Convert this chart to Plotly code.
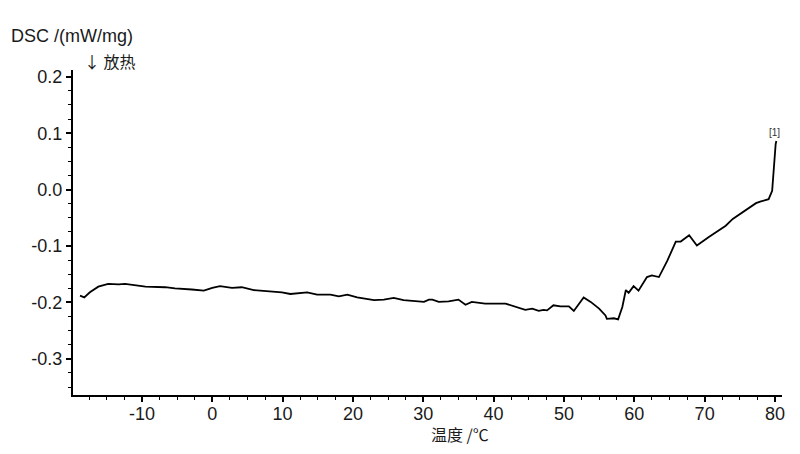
"""DSC curve: heat flow vs temperature."""

import plotly.graph_objects as go

# temperature (°C) and DSC signal (mW/mg)
temperature = [
    -18.8, -18.2, -17.4, -16.2, -14.8, -13.3, -12.4, -11.0, -9.5, -6.7,
    -5.3, -2.9, -1.2, 0.0, 1.1, 2.8, 4.2, 5.9, 7.8, 9.9,
    11.1, 13.5, 14.9, 16.8, 18.0, 19.2, 20.6, 23.0, 24.4, 25.8,
    27.2, 29.1, 30.1, 30.8, 31.3, 32.2, 33.6, 35.0, 36.0, 36.9,
    38.8, 41.7, 43.1, 44.5, 45.5, 46.4, 47.1, 47.6, 48.5, 49.5,
    50.7, 51.4, 52.8, 53.8, 55.0, 55.9, 56.1, 57.1, 57.7, 58.3,
    58.8, 59.2, 59.9, 60.6, 61.8, 62.5, 63.5, 64.7, 65.9, 66.6,
    67.8, 68.9, 70.6, 73.0, 74.0, 75.1, 76.5, 77.3, 78.0, 79.1,
    79.6, 79.8, 80.1, 80.2,
]
dsc = [
    -0.188, -0.191, -0.182, -0.172, -0.167, -0.168, -0.167, -0.170, -0.172, -0.173,
    -0.175, -0.177, -0.179, -0.174, -0.171, -0.174, -0.173, -0.178, -0.180, -0.182,
    -0.185, -0.182, -0.186, -0.186, -0.189, -0.186, -0.191, -0.196, -0.195, -0.192,
    -0.196, -0.198, -0.199, -0.195, -0.195, -0.199, -0.198, -0.195, -0.204, -0.199,
    -0.202, -0.202, -0.207, -0.213, -0.211, -0.215, -0.213, -0.214, -0.205, -0.207,
    -0.207, -0.215, -0.191, -0.199, -0.211, -0.223, -0.229, -0.228, -0.230, -0.208,
    -0.178, -0.183, -0.171, -0.179, -0.155, -0.152, -0.155, -0.126, -0.092, -0.092,
    -0.081, -0.099, -0.084, -0.064, -0.052, -0.043, -0.031, -0.024, -0.021, -0.017,
    -0.002, 0.034, 0.081, 0.086,
]

x_ticks = [-10, 0, 10, 20, 30, 40, 50, 60, 70, 80]
x_labels = ["-10", "0", "10", "20", "30", "40", "50", "60", "70", "80"]
y_ticks = [-0.3, -0.2, -0.1, 0.0, 0.1, 0.2]
y_labels = ["-0.3", "-0.2", "-0.1", "0.0", "0.1", "0.2"]

TEXT = "#1a1a1a"
LATIN = "Liberation Sans, Arial, sans-serif"
CJK = "Noto Sans CJK SC, Liberation Sans, sans-serif"

fig = go.Figure()
fig.add_trace(go.Scatter(
    x=temperature, y=dsc, mode="lines",
    line=dict(color="black", width=1.8),
    showlegend=False,
))

fig.update_xaxes(
    range=[-19.8, 81.0], tickvals=x_ticks, ticktext=x_labels,
    showline=True, linecolor="black", linewidth=2,
    ticks="outside", ticklen=5, tickwidth=1.5, tickcolor="black",
    minor=dict(dtick=2.5, tick0=0, ticks="outside", ticklen=3, tickcolor="black", tickwidth=1),
    showgrid=False, zeroline=False, ticklabelstandoff=-4,
    tickfont=dict(family=LATIN, size=18, color=TEXT),
)
fig.update_yaxes(
    range=[-0.364, 0.212], tickvals=y_ticks, ticktext=y_labels,
    showline=True, linecolor="black", linewidth=2,
    ticks="outside", ticklen=5, tickwidth=1.5, tickcolor="black",
    minor=dict(dtick=0.025, tick0=0, ticks="outside", ticklen=3, tickcolor="black", tickwidth=1),
    showgrid=False, zeroline=False,
    tickfont=dict(family=LATIN, size=18, color=TEXT),
)

fig.add_annotation(
    text="DSC /(mW/mg)", xref="paper", yref="paper", x=-0.0903, y=1.105,
    xanchor="left", yanchor="middle", showarrow=False,
    font=dict(family=LATIN, size=18, color=TEXT),
)
fig.add_annotation(
    text="↓ 放热", xref="paper", yref="paper", x=0.0127, y=1.028,
    xanchor="left", yanchor="middle", showarrow=False,
    font=dict(family=CJK, size=16, color=TEXT),
)
fig.add_annotation(
    text="温度 /℃", xref="paper", yref="paper", x=0.5458, y=-0.12,
    xanchor="center", yanchor="middle", showarrow=False,
    font=dict(family=CJK, size=16, color=TEXT),
)
fig.add_annotation(
    text="[1]", x=80.0, y=0.101, xref="x", yref="y",
    showarrow=False, font=dict(family=LATIN, size=10, color="#333"),
)

# the page body adds an 8 px offset, so the figure is 8 px smaller
fig.update_layout(
    width=792, height=446,
    margin=dict(l=65, r=18, t=62, b=59),
    plot_bgcolor="white", paper_bgcolor="white",
)

fig.write_html("out.html")
